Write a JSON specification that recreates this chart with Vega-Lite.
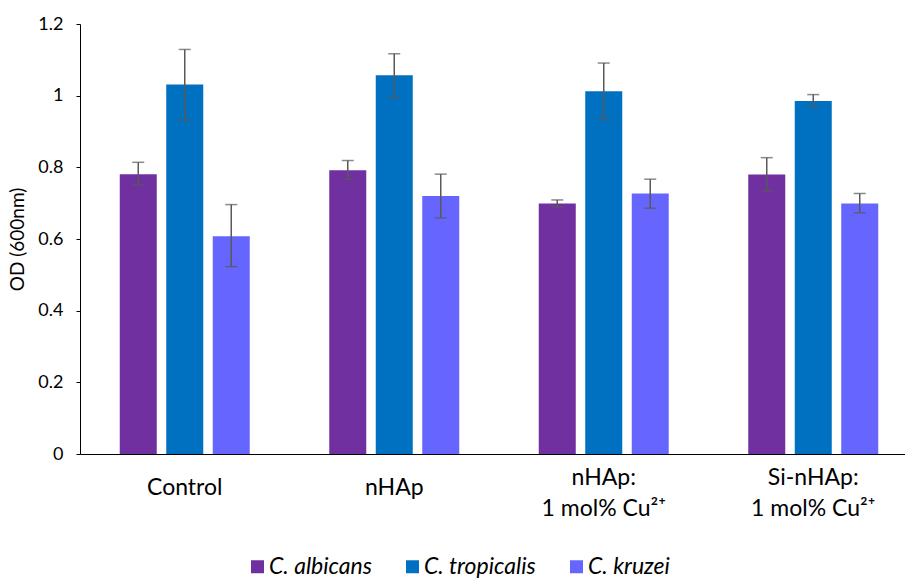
{
  "$schema": "https://vega.github.io/schema/vega-lite/v6.json",
  "width": 825,
  "height": 430,
  "autosize": "none",
  "padding": {"left": 80, "top": 24, "right": 0, "bottom": 125},
  "config": {"view": {"stroke": null}, "font": "Lato"},
  "data": {"values": [
    {"group": "Control", "label": "Control", "species": "C. albicans", "value": 0.781, "lo": 0.751, "hi": 0.814},
    {"group": "Control", "label": "Control", "species": "C. tropicalis", "value": 1.031, "lo": 0.931, "hi": 1.129},
    {"group": "Control", "label": "Control", "species": "C. kruzei", "value": 0.608, "lo": 0.523, "hi": 0.696},
    {"group": "nHAp", "label": "nHAp", "species": "C. albicans", "value": 0.792, "lo": 0.767, "hi": 0.819},
    {"group": "nHAp", "label": "nHAp", "species": "C. tropicalis", "value": 1.057, "lo": 0.995, "hi": 1.117},
    {"group": "nHAp", "label": "nHAp", "species": "C. kruzei", "value": 0.720, "lo": 0.659, "hi": 0.781},
    {"group": "nHAp Cu", "label": "nHAp:|1 mol% Cu²⁺", "species": "C. albicans", "value": 0.699, "lo": 0.690, "hi": 0.709},
    {"group": "nHAp Cu", "label": "nHAp:|1 mol% Cu²⁺", "species": "C. tropicalis", "value": 1.012, "lo": 0.934, "hi": 1.091},
    {"group": "nHAp Cu", "label": "nHAp:|1 mol% Cu²⁺", "species": "C. kruzei", "value": 0.727, "lo": 0.686, "hi": 0.767},
    {"group": "Si-nHAp Cu", "label": "Si-nHAp:|1 mol% Cu²⁺", "species": "C. albicans", "value": 0.780, "lo": 0.734, "hi": 0.827},
    {"group": "Si-nHAp Cu", "label": "Si-nHAp:|1 mol% Cu²⁺", "species": "C. tropicalis", "value": 0.985, "lo": 0.970, "hi": 1.003},
    {"group": "Si-nHAp Cu", "label": "Si-nHAp:|1 mol% Cu²⁺", "species": "C. kruzei", "value": 0.699, "lo": 0.673, "hi": 0.727}
  ]},
  "encoding": {
    "x": {
      "field": "label", "type": "nominal", "sort": null,
      "scale": {"range": [0, 838], "paddingInner": 0, "paddingOuter": 0},
      "axis": {
        "title": null, "labelAngle": 0, "ticks": false, "domainColor": "#000000", "domainWidth": 1,
        "labelFontSize": 23, "labelColor": "#000000", "labelBaseline": "middle",
        "labelPadding": {"condition": {"test": "indexof(datum.value, '|') >= 0", "value": 23}, "value": 33},
        "labelLineHeight": 31, "labelExpr": "split(datum.label, '|')"
      }
    },
    "xOffset": {
      "field": "species", "type": "nominal",
      "sort": ["C. albicans", "C. tropicalis", "C. kruzei"],
      "scale": {"paddingInner": 0.204, "paddingOuter": 0.855}
    }
  },
  "layer": [
    {
      "mark": {"type": "bar"},
      "encoding": {
        "y": {
          "field": "value", "type": "quantitative",
          "scale": {"domain": [0, 1.2], "nice": false},
          "axis": {
            "title": "OD (600nm)", "grid": false, "values": [0, 0.2, 0.4, 0.6, 0.8, 1, 1.2], "format": "~g",
            "domainColor": "#000000", "tickColor": "#000000", "tickSize": 4, "labelPadding": 13,
            "labelFontSize": 18, "labelColor": "#000000", "titleFontSize": 19, "titleFontWeight": "normal",
            "titleColor": "#000000", "titlePadding": 10
          }
        },
        "color": {
          "field": "species", "type": "nominal",
          "sort": ["C. albicans", "C. tropicalis", "C. kruzei"],
          "scale": {"domain": ["C. albicans", "C. tropicalis", "C. kruzei"], "range": ["#7030A0", "#0070C0", "#6666FF"]},
          "legend": {
            "title": null, "orient": "none", "direction": "horizontal", "legendX": 166, "legendY": 531,
            "symbolType": "square", "symbolSize": 169, "symbolStrokeWidth": 0, "symbolOpacity": 1,
            "labelFontSize": 23, "labelFontStyle": "italic", "labelColor": "#000000", "labelOffset": 0,
            "columnPadding": 29
          }
        }
      }
    },
    {
      "mark": {"type": "rule", "color": "#595959", "strokeWidth": 1.5},
      "encoding": {
        "y": {"field": "lo", "type": "quantitative"},
        "y2": {"field": "hi"}
      }
    },
    {
      "mark": {"type": "tick", "color": "#595959", "thickness": 1.5, "size": 12},
      "encoding": {"y": {"field": "lo", "type": "quantitative"}}
    },
    {
      "mark": {"type": "tick", "color": "#595959", "thickness": 1.5, "size": 12},
      "encoding": {"y": {"field": "hi", "type": "quantitative"}}
    }
  ]
}
